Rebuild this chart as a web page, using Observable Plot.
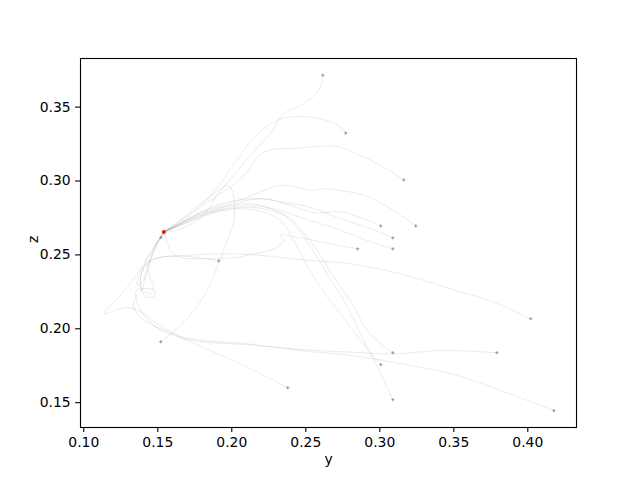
<!DOCTYPE html>
<html>
<head>
<meta charset="utf-8">
<script src="https://cdn.jsdelivr.net/npm/d3@7"></script>
<script src="https://cdn.jsdelivr.net/npm/@observablehq/plot@0.6"></script>
<style>
  body { margin: 0; background: white; }
</style>
</head>
<body>
<div id="chart"></div>
<script>
// trajectories in the (y, z) plane, each from its start (+) towards the red target
const target = [0.1541, 0.2655];

const traj01 = [[0.2615,0.3716],[0.2611,0.3669],[0.2577,0.3601],[0.2518,0.3545],[0.2442,0.3500],[0.2351,0.3455],[0.2307,0.3399],[0.2261,0.3320],[0.2194,0.3252],[0.2104,0.3151],[0.2036,0.3063],[0.1969,0.2989],[0.1890,0.2889],[0.1834,0.2799],[0.1766,0.2732],[0.1653,0.2676],[0.1586,0.2657]];
const traj02 = [[0.2770,0.3324],[0.2734,0.3367],[0.2645,0.3409],[0.2532,0.3432],[0.2442,0.3436],[0.2329,0.3421],[0.2214,0.3353],[0.2126,0.3266],[0.2059,0.3173],[0.1991,0.3083],[0.1924,0.2982],[0.1822,0.2867],[0.1721,0.2779],[0.1620,0.2705]];
const traj03 = [[0.3162,0.3007],[0.3005,0.3105],[0.2847,0.3184],[0.2712,0.3234],[0.2622,0.3236],[0.2442,0.3223],[0.2239,0.3205],[0.2172,0.3159],[0.2126,0.3092],[0.2059,0.3014],[0.1991,0.2957],[0.1901,0.2901],[0.1789,0.2822],[0.1676,0.2743],[0.1586,0.2684]];
const traj04 = [[0.3007,0.2696],[0.2892,0.2745],[0.2734,0.2791],[0.2554,0.2786],[0.2397,0.2835],[0.2284,0.2869],[0.2216,0.2880],[0.2104,0.2869],[0.1991,0.2835],[0.1856,0.2793],[0.1721,0.2739],[0.1620,0.2691]];
const traj05 = [[0.3243,0.2696],[0.3072,0.2813],[0.2892,0.2903],[0.2734,0.2936],[0.2622,0.2948],[0.2532,0.2936],[0.2442,0.2959],[0.2329,0.2970],[0.2216,0.2936],[0.2081,0.2880],[0.1957,0.2840],[0.1822,0.2799],[0.1687,0.2732],[0.1599,0.2684]];
const traj06 = [[0.3088,0.2615],[0.2915,0.2686],[0.2712,0.2754],[0.2532,0.2822],[0.2351,0.2855],[0.2216,0.2878],[0.2059,0.2874],[0.1890,0.2833],[0.1755,0.2772],[0.1640,0.2705]];
const traj07 = [[0.2851,0.2541],[0.2667,0.2574],[0.2509,0.2608],[0.2430,0.2620],[0.2329,0.2635],[0.2351,0.2597],[0.2284,0.2541],[0.2127,0.2502],[0.2014,0.2480],[0.1789,0.2475],[0.1653,0.2482],[0.1586,0.2529],[0.1559,0.2597]];
const traj08 = [[0.3088,0.2541],[0.2915,0.2597],[0.2712,0.2676],[0.2532,0.2732],[0.2397,0.2777],[0.2239,0.2822],[0.2081,0.2833],[0.1901,0.2799],[0.1721,0.2732],[0.1599,0.2678]];
const traj09 = [[0.1912,0.2459],[0.1755,0.2484],[0.1586,0.2492],[0.1484,0.2475],[0.1417,0.2428],[0.1383,0.2340],[0.1397,0.2259],[0.1451,0.2239],[0.1471,0.2286],[0.1437,0.2380],[0.1451,0.2475],[0.1491,0.2563]];
const traj10 = [[0.4020,0.2068],[0.3770,0.2180],[0.3478,0.2270],[0.3140,0.2372],[0.2802,0.2439],[0.2464,0.2468],[0.2127,0.2502],[0.1901,0.2507],[0.1676,0.2495],[0.1518,0.2482],[0.1430,0.2448],[0.1376,0.2367],[0.1363,0.2293],[0.1403,0.2326],[0.1430,0.2428],[0.1471,0.2529],[0.1505,0.2597]];
const traj11 = [[0.3088,0.1838],[0.3005,0.1899],[0.2915,0.1989],[0.2802,0.2191],[0.2689,0.2349],[0.2577,0.2529],[0.2484,0.2651],[0.2397,0.2745],[0.2262,0.2813],[0.2127,0.2847],[0.1991,0.2833],[0.1822,0.2793],[0.1687,0.2732],[0.1586,0.2678]];
const traj12 = [[0.3791,0.1838],[0.3591,0.1849],[0.3410,0.1853],[0.3253,0.1842],[0.3088,0.1830],[0.2802,0.1842],[0.2464,0.1860],[0.2127,0.1891],[0.1789,0.1914],[0.1586,0.1961],[0.1451,0.2043],[0.1370,0.2157],[0.1356,0.2259],[0.1417,0.2272],[0.1484,0.2259],[0.1471,0.2218],[0.1417,0.2218],[0.1383,0.2299],[0.1397,0.2394],[0.1437,0.2489],[0.1484,0.2570]];
const traj13 = [[0.3007,0.1757],[0.2870,0.1921],[0.2734,0.2101],[0.2599,0.2281],[0.2498,0.2448],[0.2417,0.2597],[0.2343,0.2718],[0.2228,0.2786],[0.2059,0.2813],[0.1890,0.2786],[0.1734,0.2732],[0.1620,0.2684]];
const traj14 = [[0.1520,0.1912],[0.1631,0.2000],[0.1743,0.2124],[0.1834,0.2259],[0.1901,0.2416],[0.1969,0.2597],[0.2014,0.2732],[0.2018,0.2833],[0.2003,0.2934],[0.1969,0.2970],[0.1890,0.2921],[0.1789,0.2847],[0.1687,0.2766],[0.1599,0.2698]];
const traj15 = [[0.2378,0.1601],[0.2104,0.1741],[0.1856,0.1853],[0.1653,0.1943],[0.1484,0.2043],[0.1383,0.2117],[0.1282,0.2144],[0.1194,0.2117],[0.1135,0.2101],[0.1234,0.2211],[0.1329,0.2326],[0.1397,0.2428],[0.1451,0.2516],[0.1498,0.2590]];
const traj16 = [[0.3088,0.1520],[0.3005,0.1696],[0.2892,0.1921],[0.2757,0.2191],[0.2645,0.2372],[0.2532,0.2551],[0.2437,0.2691],[0.2329,0.2779],[0.2160,0.2820],[0.1991,0.2813],[0.1822,0.2779],[0.1687,0.2725],[0.1586,0.2678]];
const traj17 = [[0.4176,0.1446],[0.3815,0.1583],[0.3478,0.1696],[0.3140,0.1764],[0.2802,0.1820],[0.2464,0.1853],[0.2104,0.1899],[0.1721,0.1932],[0.1496,0.2011],[0.1383,0.2076],[0.1338,0.2146],[0.1349,0.2214],[0.1395,0.2270],[0.1417,0.2353],[0.1451,0.2461],[0.1491,0.2563]];
const traj18 = [[0.1520,0.2617]];

const trajectories = [traj01, traj02, traj03, traj04, traj05, traj06, traj07, traj08, traj09,
  traj10, traj11, traj12, traj13, traj14, traj15, traj16, traj17, traj18];

const yTicks = [0.10, 0.15, 0.20, 0.25, 0.30, 0.35, 0.40];
const zTicks = [0.15, 0.20, 0.25, 0.30, 0.35];

const rows = trajectories.flatMap((t, i) =>
  t.concat([target]).map(([yv, zv]) => ({id: i, yv, zv})));
const starts = trajectories.map(t => ({yv: t[0][0], zv: t[0][1]}));

const plot = Plot.plot({
  width: 640,
  height: 480,
  marginLeft: 80,
  marginRight: 64,
  marginTop: 58,
  marginBottom: 53,
  style: {fontFamily: "DejaVu Sans", fontSize: "13.9px", background: "white", color: "black"},
  x: {domain: [0.0978, 0.4329], label: null},
  y: {domain: [0.1332, 0.3829], label: null},
  marks: [
    Plot.line(rows, {x: "yv", y: "zv", z: "id", curve: "catmull-rom",
      stroke: "#808080", strokeOpacity: 0.2, strokeWidth: 0.8}),
    Plot.dot(starts, {x: "yv", y: "zv", symbol: "plus", r: 1.1, stroke: "#808080", strokeWidth: 0.8}),
    Plot.dot([target], {x: d => d[0], y: d => d[1], r: 1.8, fill: "red", stroke: "#d62728", strokeWidth: 0.5}),
    Plot.frame({stroke: "black", strokeWidth: 1.1}),
    Plot.axisX({ticks: yTicks, tickFormat: ".2f", tickSize: 4.9, tickPadding: 4.9, strokeWidth: 1.1, label: null}),
    Plot.axisY({ticks: zTicks, tickFormat: ".2f", tickSize: 4.9, tickPadding: 4.9, strokeWidth: 1.1, label: null}),
    Plot.text(["y"], {text: d => d, frameAnchor: "bottom", dy: 36}),
    Plot.text(["z"], {text: d => d, frameAnchor: "left", dx: -47, rotate: -90})
  ]
});

document.getElementById("chart").appendChild(plot);
</script>
</body>
</html>
